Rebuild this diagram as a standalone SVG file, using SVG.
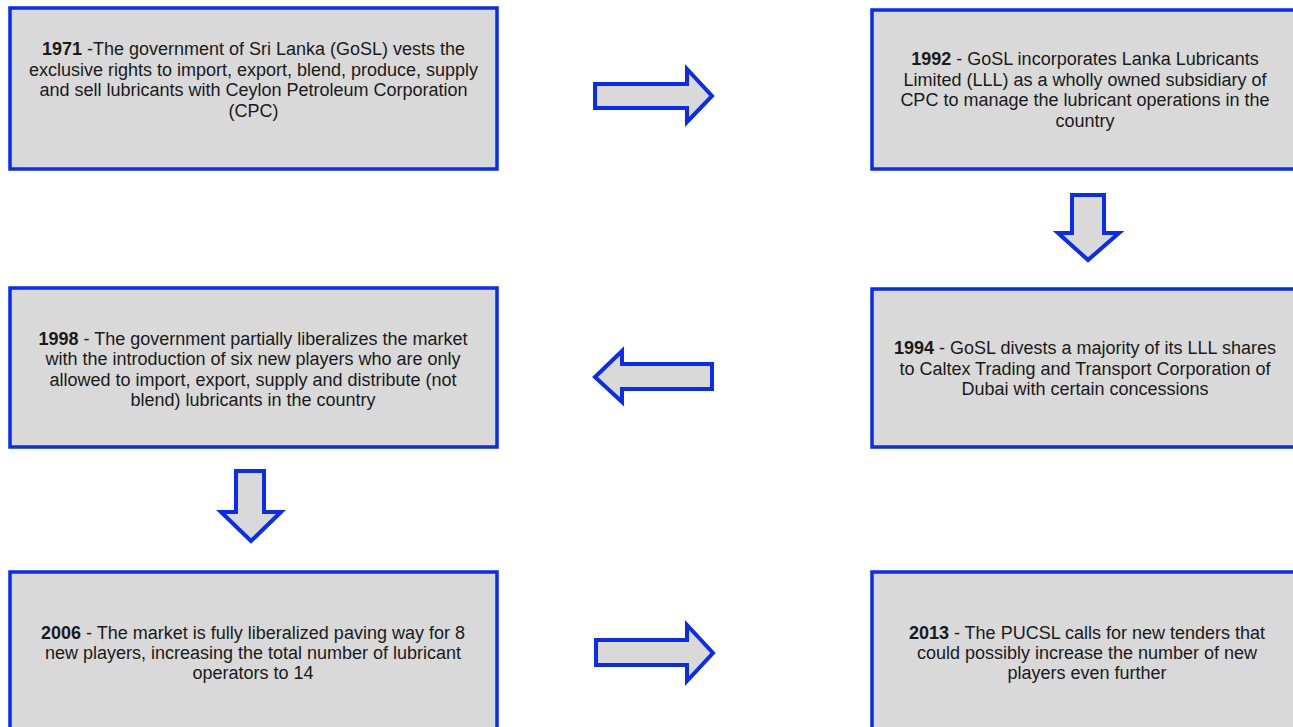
<svg xmlns="http://www.w3.org/2000/svg" width="1293" height="727" viewBox="0 0 1293 727">
<style>
.box{fill:#D9D9D9;stroke:#0A2BF0;stroke-width:3.5}
.arr{fill:#D9D9D9;stroke:#0A2BF0;stroke-width:4;stroke-linejoin:miter}
text{font-family:"Liberation Sans",Arial,sans-serif;font-size:18px;fill:#1A1A1A;text-anchor:middle}
.b{font-weight:bold}
</style>
<rect width="1293" height="727" fill="#FFFFFF"/>
<g id="connectors">
<path class="arr" d="M595,84 H687 V69 L712,96 L687,122 V108 H595 Z"/>
<path class="arr" d="M1072,195 H1104 V233 H1119 L1088,260 L1058,233 H1072 Z"/>
<path class="arr" d="M712,364 H622 V351 L595,377 L622,402 V389 H712 Z"/>
<path class="arr" d="M236,471 H264 V512 H281 L251,541 L221,512 H236 Z"/>
<path class="arr" d="M596,640 H687 V625 L713,653 L687,681 V665 H596 Z"/>
</g>
<g id="n1971">
<rect class="box" x="10" y="8" width="487" height="161"/>
<text x="253.5" y="55"><tspan class="b">1971</tspan> -The government  of Sri Lanka (GoSL) vests the</text>
<text x="253.5" y="75.5">exclusive rights to import, export, blend, produce, supply</text>
<text x="253.5" y="96">and sell lubricants with Ceylon Petroleum Corporation</text>
<text x="253.5" y="116.5">(CPC)</text>
</g>
<g id="n1992">
<rect class="box" x="872" y="10" width="428" height="159"/>
<text x="1085" y="65"><tspan class="b">1992</tspan> - GoSL incorporates Lanka Lubricants</text>
<text x="1085" y="85.5">Limited (LLL) as a wholly owned subsidiary of</text>
<text x="1085" y="106">CPC to manage the lubricant operations in the</text>
<text x="1085" y="127">country</text>
</g>
<g id="n1994">
<rect class="box" x="872" y="289" width="428" height="158"/>
<text x="1085" y="354"><tspan class="b">1994</tspan> - GoSL divests a majority of its LLL shares</text>
<text x="1085" y="374.5">to Caltex Trading and Transport Corporation of</text>
<text x="1085" y="394.5">Dubai with certain concessions</text>
</g>
<g id="n1998">
<rect class="box" x="10" y="288" width="487" height="159"/>
<text x="253" y="344.5"><tspan class="b">1998</tspan> - The government partially liberalizes the market</text>
<text x="253" y="365">with the introduction of six new players who are only</text>
<text x="253" y="385.5">allowed to import, export, supply and distribute (not</text>
<text x="253" y="406">blend) lubricants in the country</text>
</g>
<g id="n2006">
<rect class="box" x="10" y="572" width="487" height="161"/>
<text x="253" y="639"><tspan class="b">2006</tspan> - The market is fully liberalized paving way for 8</text>
<text x="253" y="659">new players, increasing the total number of lubricant</text>
<text x="253" y="679">operators to 14</text>
</g>
<g id="n2013">
<rect class="box" x="872" y="572" width="428" height="161"/>
<text x="1087" y="639"><tspan class="b">2013</tspan> - The PUCSL calls for new tenders that</text>
<text x="1087" y="659">could possibly increase the number of new</text>
<text x="1087" y="679">players even further</text>
</g>
</svg>
